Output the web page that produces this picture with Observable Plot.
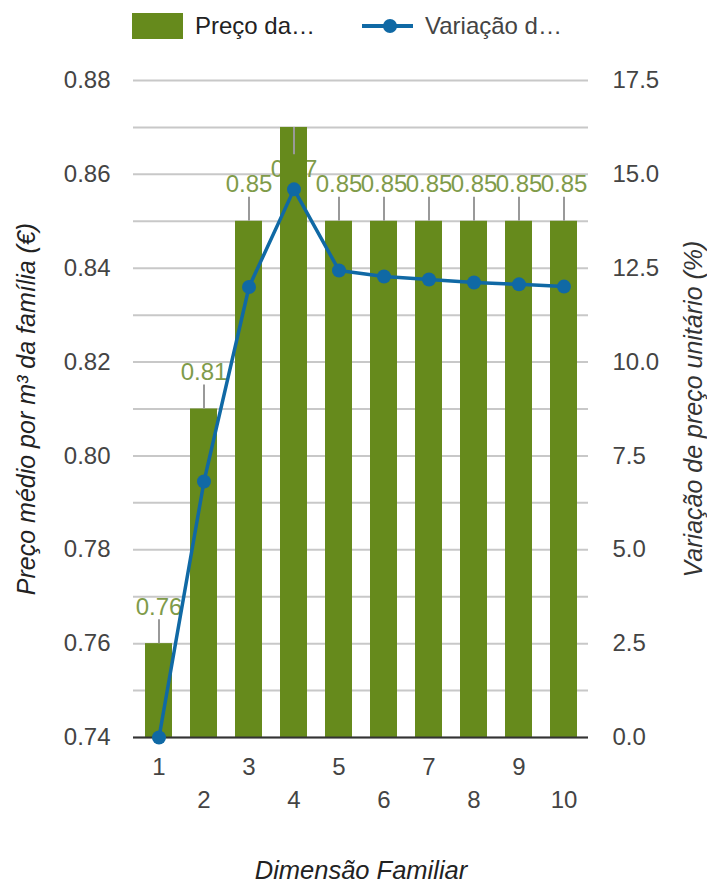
<!DOCTYPE html>
<html>
<head>
<meta charset="utf-8">
<script src="https://cdn.jsdelivr.net/npm/d3@7"></script>
<script src="https://cdn.jsdelivr.net/npm/@observablehq/plot@0.6"></script>
<style>
  html, body { margin: 0; padding: 0; background: #fff; }
  body { width: 707px; height: 887px; overflow: hidden; font-family: "Liberation Sans", Arial, sans-serif; }
  #legend { position: relative; height: 52px; font-size: 24px; color: #222; }
  #legend span { position: absolute; display: block; }
  #chart svg { display: block; }
</style>
</head>
<body>
<div id="legend">
  <span style="left:132px;top:13px;width:51px;height:26px;background:#668a1c;"></span>
  <span style="left:195px;top:14px;line-height:24px;white-space:nowrap;">Preço da…</span>
  <span style="left:362px;top:24px;width:51px;height:4px;background:#1069a5;"></span>
  <span style="left:383px;top:19px;width:14px;height:14px;border-radius:50%;background:#1069a5;"></span>
  <span style="left:425px;top:14px;line-height:24px;white-space:nowrap;color:#444;">Variação d…</span>
</div>
<div id="chart"></div>
<script>
// ---- data ----
const families = ["1", "2", "3", "4", "5", "6", "7", "8", "9", "10"];
const precos = [0.76, 0.81, 0.85, 0.87, 0.85, 0.85, 0.85, 0.85, 0.85, 0.85];
const variacao = [0, 6.82, 12.0, 14.6, 12.44, 12.28, 12.2, 12.12, 12.07, 12.01];
const leftTicks = [0.74, 0.76, 0.78, 0.80, 0.82, 0.84, 0.86, 0.88];
const leftTickLabels = ["0.74", "0.76", "0.78", "0.80", "0.82", "0.84", "0.86", "0.88"];
const rightTickLabels = ["0.0", "2.5", "5.0", "7.5", "10.0", "12.5", "15.0", "17.5"];
const gridValues = [0.74, 0.75, 0.76, 0.77, 0.78, 0.79, 0.80, 0.81, 0.82, 0.83, 0.84, 0.85, 0.86, 0.87, 0.88];
const xTicksOdd = ["1", "3", "5", "7", "9"];
const xTicksEven = ["2", "4", "6", "8", "10"];
const barLabels = ["0.76", "0.81", "0.85", "0.87", "0.85", "0.85", "0.85", "0.85", "0.85", "0.85"];

const yMin = 0.74, yMax = 0.88, rMax = 17.5;
const toLeft = v => yMin + v / rMax * (yMax - yMin);

const data = families.map((f, i) => ({
  fam: f, preco: precos[i], varLeft: toLeft(variacao[i]), label: barLabels[i],
  inside: precos[i] + 0.01 > yMax - 0.005
}));
const outside = data.filter(d => !d.inside);
const inside = data.filter(d => d.inside);

const leftFmt = new Map(leftTicks.map((t, i) => [t, leftTickLabels[i]]));
const rightFmt = new Map(leftTicks.map((t, i) => [t, rightTickLabels[i]]));

const green = "#668a1c", blue = "#1069a5", labelGreen = "#7f9b4a";

const chart = Plot.plot({
  width: 707,
  height: 835,
  marginTop: 28,
  marginBottom: 150,
  marginLeft: 133,
  marginRight: 119,
  style: { fontFamily: "'Liberation Sans', Arial, sans-serif", fontSize: "24px", background: "#fff" },
  x: { domain: families, paddingInner: 0.4, paddingOuter: 0.2, axis: null },
  y: { domain: [yMin, yMax], axis: null },
  marks: [
    Plot.ruleY(gridValues, { stroke: "#c8c8c8", strokeWidth: 2 }),
    Plot.text(outside, { x: "fam", y: "preco", text: "label", dy: -29, lineAnchor: "bottom", fill: labelGreen }),
    Plot.text(inside, { x: "fam", y: "preco", text: "label", dy: 33, lineAnchor: "top", fill: labelGreen }),
    Plot.barY(data, { x: "fam", y1: yMin, y2: "preco", fill: green }),
    Plot.ruleX(outside, { x: "fam", y1: "preco", y2: d => d.preco + 0.0051, stroke: "#999", strokeWidth: 2 }),
    Plot.ruleX(inside, { x: "fam", y1: "preco", y2: d => d.preco - 0.0058, stroke: "#999", strokeWidth: 2 }),
    Plot.ruleY([yMin], { stroke: "#333", strokeWidth: 2 }),
    Plot.line(data, { x: "fam", y: "varLeft", stroke: blue, strokeWidth: 3.5 }),
    Plot.dot(data, { x: "fam", y: "varLeft", r: 7, fill: blue }),
    Plot.axisY(leftTicks, { anchor: "left", tickSize: 0, tickPadding: 23, tickFormat: d => leftFmt.get(d), fill: "#444", label: null }),
    Plot.axisY(leftTicks, { anchor: "right", tickSize: 0, tickPadding: 24, tickFormat: d => rightFmt.get(d), fill: "#444", label: null }),
    Plot.axisX(xTicksOdd, { anchor: "bottom", tickSize: 0, tickPadding: 20, fill: "#444", label: null }),
    Plot.axisX(xTicksEven, { anchor: "bottom", tickSize: 0, tickPadding: 53, fill: "#444", label: null }),
    Plot.text(["Preço médio por m³ da família (€)"], { frameAnchor: "left", textAnchor: "middle", dx: -107, rotate: -90, fontStyle: "italic", fontSize: 25, fill: "#222" }),
    Plot.text(["Variação de preço unitário (%)"], { frameAnchor: "right", textAnchor: "middle", dx: 105, rotate: -90, fontStyle: "italic", fontSize: 25, fill: "#333" }),
    Plot.text(["Dimensão Familiar"], { frameAnchor: "bottom", dy: 141, fontStyle: "italic", fontSize: 25.5, fill: "#222" })
  ]
});
document.getElementById("chart").appendChild(chart);
</script>
</body>
</html>
